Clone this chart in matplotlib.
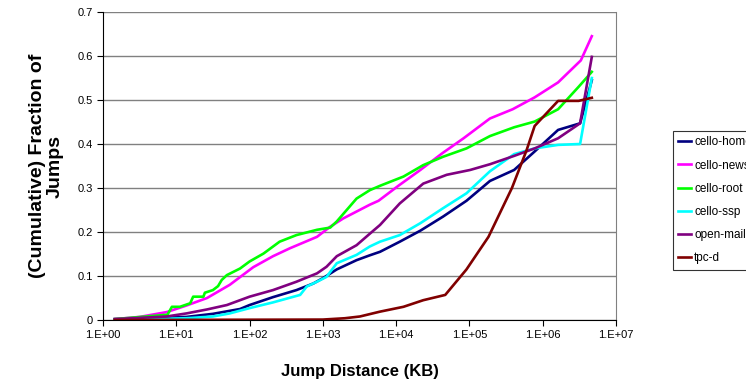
import numpy as np
import matplotlib
matplotlib.use("Agg")
import matplotlib.pyplot as plt
from matplotlib.ticker import FixedLocator, NullLocator

plt.rcParams["font.family"] = ["Liberation Sans", "DejaVu Sans"]

# jump distance as log10(KB), fraction of jumps (cumulative)
home_x = [0.16, 1.14, 1.5, 1.87, 2.0, 2.32, 2.64, 2.87, 3.0, 3.19, 3.46, 3.64, 3.78,
          4.05, 4.33, 4.64, 4.96, 5.28, 5.61, 5.89, 6.21, 6.51, 6.67]
home_y = [0.002, 0.007, 0.014, 0.025, 0.034, 0.052, 0.068, 0.083, 0.095, 0.115, 0.136,
          0.147, 0.155, 0.178, 0.203, 0.235, 0.271, 0.316, 0.341, 0.383, 0.432, 0.447, 0.545]

news_x = [0.16, 0.5, 0.87, 1.14, 1.42, 1.73, 2.05, 2.32, 2.55, 2.92, 3.10, 3.28, 3.64,
          3.76, 4.03, 4.33, 4.63, 4.92, 5.28, 5.59, 5.89, 6.21, 6.52, 6.67]
news_y = [0.002, 0.007, 0.018, 0.033, 0.05, 0.08, 0.12, 0.145, 0.163, 0.189, 0.212, 0.231,
          0.262, 0.271, 0.305, 0.341, 0.379, 0.413, 0.458, 0.479, 0.506, 0.54, 0.59, 0.645]

root_x = [0.16, 0.88, 0.94, 1.05, 1.19, 1.23, 1.37, 1.39, 1.5, 1.57, 1.62, 1.69, 1.87,
          2.0, 2.19, 2.41, 2.64, 2.92, 3.1, 3.19, 3.46, 3.64, 3.78, 4.10, 4.37, 4.64,
          4.96, 5.28, 5.61, 5.89, 6.21, 6.49, 6.67]
root_y = [0.002, 0.012, 0.03, 0.03, 0.038, 0.053, 0.053, 0.062, 0.068, 0.077, 0.091, 0.102,
          0.117, 0.133, 0.151, 0.178, 0.193, 0.205, 0.21, 0.224, 0.276, 0.295, 0.305, 0.326,
          0.352, 0.371, 0.39, 0.418, 0.438, 0.451, 0.479, 0.53, 0.564]

ssp_x = [0.16, 1.14, 1.5, 1.73, 2.0, 2.32, 2.69, 2.78, 2.92, 3.05, 3.19, 3.46, 3.64, 3.78,
         4.05, 4.33, 4.64, 4.96, 5.28, 5.61, 5.89, 6.21, 6.51, 6.67]
ssp_y = [0.0, 0.004, 0.008, 0.015, 0.027, 0.04, 0.057, 0.076, 0.087, 0.098, 0.129, 0.148,
         0.167, 0.178, 0.193, 0.22, 0.254, 0.288, 0.338, 0.377, 0.39, 0.398, 0.4, 0.55]

mail_x = [0.16, 0.87, 1.14, 1.42, 1.69, 2.0, 2.32, 2.64, 2.92, 3.05, 3.19, 3.46, 3.64,
          3.78, 4.05, 4.37, 4.69, 5.01, 5.28, 5.61, 5.89, 6.21, 6.51, 6.67]
mail_y = [0.002, 0.008, 0.015, 0.024, 0.034, 0.053, 0.068, 0.087, 0.106, 0.121, 0.145, 0.17,
          0.196, 0.216, 0.265, 0.31, 0.33, 0.341, 0.354, 0.373, 0.39, 0.413, 0.447, 0.598]

tpcd_x = [0.16, 3.0, 3.3, 3.506, 3.78, 4.10, 4.37, 4.67, 4.96, 5.26, 5.58, 5.78, 5.89,
          6.21, 6.49, 6.67]
tpcd_y = [0.0, 0.001, 0.004, 0.008, 0.019, 0.030, 0.045, 0.057, 0.115, 0.189, 0.30, 0.386,
          0.441, 0.498, 0.498, 0.505]

series = [
    ("cello-home", home_x, home_y, "#000080"),
    ("cello-news", news_x, news_y, "#FF00FF"),
    ("cello-root", root_x, root_y, "#00FF00"),
    ("cello-ssp", ssp_x, ssp_y, "#00FFFF"),
    ("open-mail", mail_x, mail_y, "#800080"),
    ("tpc-d", tpcd_x, tpcd_y, "#800000"),
]

fig = plt.figure(figsize=(7.46, 3.88), dpi=100)
ax = fig.add_axes([103 / 746, 68 / 388, 513 / 746, 308 / 388])

for name, xs, ys, c in series:
    ax.plot(10 ** np.array(xs), ys, color=c, lw=1.9, label=name)

ax.set_xscale("log")
ax.set_xlim(1, 1e7)
ax.set_ylim(0, 0.7)
decades = [10.0 ** k for k in range(8)]
ax.xaxis.set_major_locator(FixedLocator(decades))
ax.xaxis.set_minor_locator(NullLocator())
ax.set_xticklabels([f"1.E+{k:02d}" for k in range(8)])
ax.set_yticks(np.arange(0, 0.71, 0.1))
ax.set_yticklabels(["0", "0.1", "0.2", "0.3", "0.4", "0.5", "0.6", "0.7"])
ax.tick_params(labelsize=8, direction="out", length=4, width=0.8, colors="black")

ax.grid(axis="y", color="#808080", lw=1)
ax.set_axisbelow(True)
ax.spines["top"].set_visible(False)
ax.spines["right"].set_color("#808080")
ax.spines["left"].set_color("black")
ax.spines["bottom"].set_color("black")

ax.set_xlabel("Jump Distance (KB)", fontsize=12, fontweight="bold", labelpad=17)
ax.set_ylabel("(Cumulative) Fraction of\nJumps", fontsize=14, fontweight="bold",
              labelpad=10, linespacing=1.05)

# legend sits partly off the right edge, as in the original
leg = ax.legend(loc="upper left", bbox_to_anchor=(673 / 746, 1 - 131 / 388),
                bbox_transform=fig.transFigure, fontsize=8.5, frameon=True,
                fancybox=False, edgecolor="black", handlelength=1.1,
                handletextpad=0.25, labelspacing=0.95, borderpad=0.45,
                borderaxespad=0)
leg.get_frame().set_linewidth(0.8)

fig.savefig("out.png", dpi=100)
